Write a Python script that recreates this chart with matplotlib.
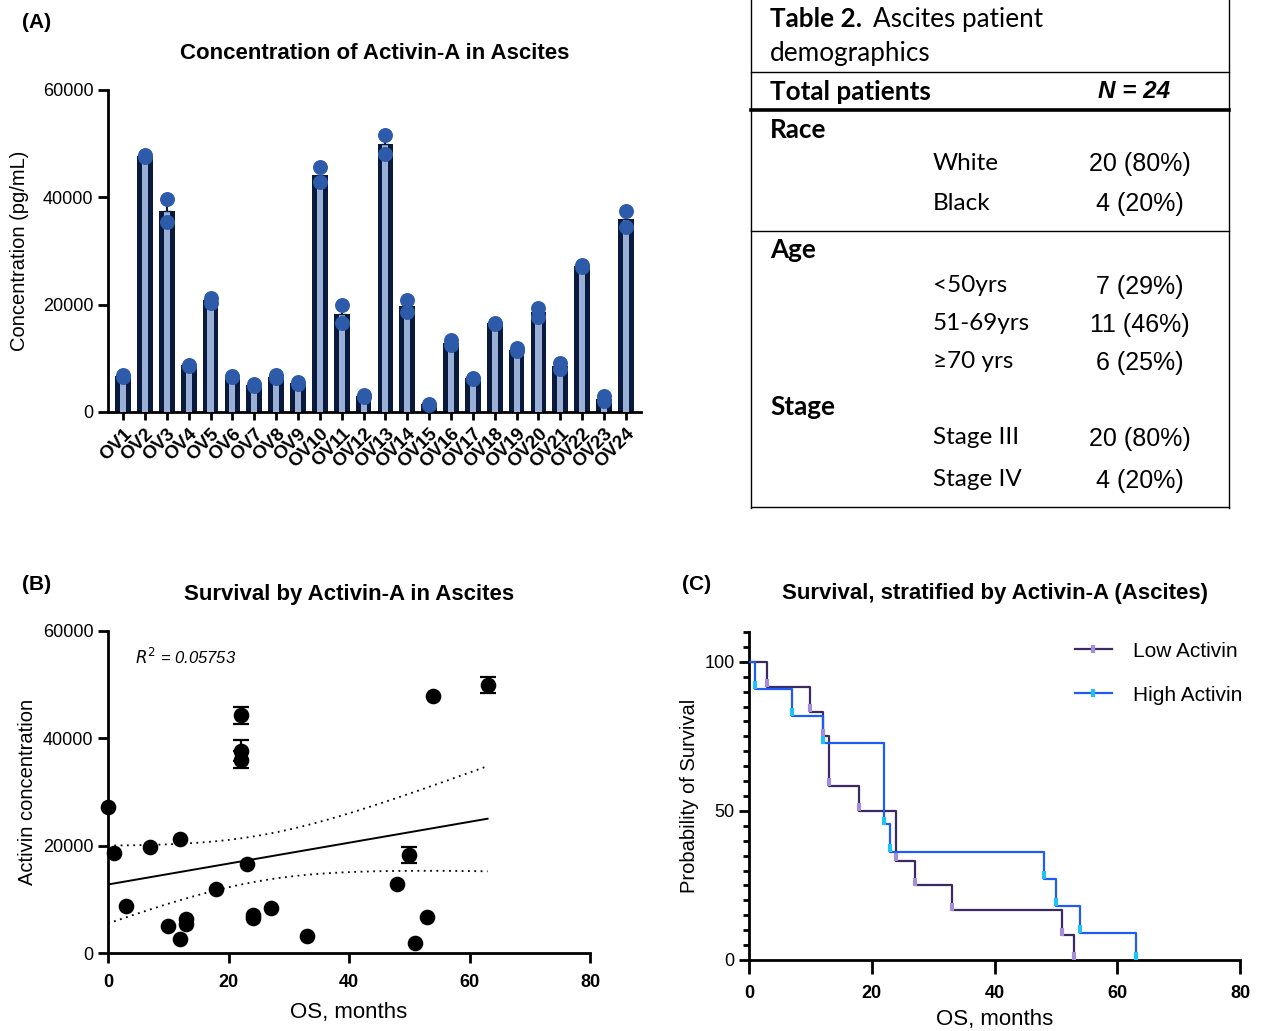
import numpy as np
import matplotlib

matplotlib.use("Agg")
import matplotlib.pyplot as plt
from matplotlib.lines import Line2D

plt.rcParams["font.family"] = ["Liberation Sans", "DejaVu Sans"]

# ---- (A) Activin-A per patient, duplicate wells ----
samples = [f"OV{i}" for i in range(1, 25)]
rep1 = [6500, 47600, 39600, 8600, 20400, 6500, 4800, 6300, 5200, 42800, 16600, 2800,
        48100, 18600, 1300, 12400, 6200, 16400, 11300, 17700, 8000, 27000, 2100, 34400]
rep2 = [6900, 47900, 35400, 8800, 21300, 6700, 5200, 6900, 5600, 45700, 19900, 3100,
        51600, 20900, 1500, 13500, 6300, 16600, 11900, 19400, 9100, 27400, 2900, 37500]

# ---- (B) overall survival vs activin ----
os_months = [0, 1, 3, 7, 10, 12, 12, 13, 13, 18, 22, 22, 22, 23, 24, 24, 27, 33,
             48, 50, 51, 53, 54, 63]
activin_mean = [27200, 18600, 8800, 19800, 5000, 21200, 2600, 6400, 5400, 11900,
                44300, 37700, 36000, 16600, 7100, 6500, 8400, 3200,
                12900, 18300, 1800, 6700, 47800, 49900]
activin_sem = [0, 0, 0, 0, 0, 0, 0, 0, 0, 0, 1600, 2000, 1600, 0, 0, 0, 0, 0,
               0, 1500, 0, 0, 0, 1500]
replicates = 2
r2_label = "0.05753"

# ---- (C) Kaplan-Meier groups (death times, months) ----
low_times = [3, 10, 12, 13, 13, 18, 24, 24, 27, 33, 51, 53]
high_times = [1, 7, 12, 22, 22, 22, 23, 48, 50, 54, 63]

# ---- table ----
table_groups = ["Race", "Age", "Stage"]
table_rows = [
    ("White", "20 (80%)"), ("Black", "4 (20%)"),
    ("<50yrs", "7 (29%)"), ("51-69yrs", "11 (46%)"), ("\u226570 yrs", "6 (25%)"),
    ("Stage III", "20 (80%)"), ("Stage IV", "4 (20%)"),
]

W, H = 1261, 1031
fig = plt.figure(figsize=(W / 100, H / 100), dpi=100)


def px_axes(left, top, right, bottom):
    return fig.add_axes([left / W, 1 - bottom / H, (right - left) / W, (bottom - top) / H])


def style_axes(ax):
    for s in ("top", "right"):
        ax.spines[s].set_visible(False)
    for s in ("left", "bottom"):
        ax.spines[s].set_linewidth(2.0)
    ax.tick_params(width=2.0, length=7, labelsize=13, direction="out")


# ================= panel A =================
axA = px_axes(108, 90, 641, 412)
style_axes(axA)
r1 = np.array(rep1, float)
r2 = np.array(rep2, float)
means = (r1 + r2) / 2
sems = np.abs(r1 - r2) / 2
xpos = np.arange(len(samples))
axA.bar(xpos, means, width=0.72, color="#0a1a3c", zorder=2)
axA.bar(xpos, means, width=0.28, color="#9aafd6", zorder=3)
axA.errorbar(xpos, means, yerr=[np.zeros_like(sems), sems], fmt="none",
             ecolor="#0a1a3c", elinewidth=1.5, capsize=3, zorder=4)
axA.scatter(xpos, r1, s=95, color="#2d5ba9", zorder=5, clip_on=False)
axA.scatter(xpos, r2, s=95, color="#2d5ba9", zorder=5, clip_on=False)
axA.set_xlim(-0.69, 23.69)
axA.set_ylim(0, 60000)
axA.set_yticks([0, 20000, 40000, 60000])
axA.set_xticks(xpos)
axA.set_xticklabels(samples, rotation=45, ha="right", rotation_mode="anchor",
                    fontsize=13.5, fontweight="bold")
axA.tick_params(axis="x", length=6)
axA.set_ylabel("Concentration (pg/mL)", fontsize=14.5, labelpad=10)
axA.set_title("Concentration of Activin-A in Ascites", fontsize=16, fontweight="bold", pad=22)

# ================= panel B =================
axB = px_axes(108, 631, 590, 953)
style_axes(axB)
xb = np.array(os_months, float)
yb = np.array(activin_mean, float)
eb = np.array(activin_sem, float)
has_err = eb > 0
axB.errorbar(xb[has_err], yb[has_err], yerr=eb[has_err], fmt="none", ecolor="black",
             elinewidth=1.6, capsize=6, capthick=1.6, zorder=3)
axB.scatter(xb, yb, s=105, color="black", zorder=4, clip_on=False)

# linear fit on all replicate values, with 95% confidence band
xr = np.repeat(xb, replicates)
yr = np.repeat(yb, replicates)
n = len(xr)
slope, intercept = np.polyfit(xr, yr, 1)
resid = yr - (slope * xr + intercept)
s_err = np.sqrt(np.sum(resid ** 2) / (n - 2))
sxx = np.sum((xr - xr.mean()) ** 2)
xf = np.linspace(xb.min(), xb.max(), 200)
yf = slope * xf + intercept
band = 2.013 * s_err * np.sqrt(1 / n + (xf - xr.mean()) ** 2 / sxx)
axB.plot(xf, yf, color="black", lw=1.4, zorder=2)
axB.plot(xf, yf + band, color="black", lw=1.3, ls=(0, (1, 2.5)), zorder=2)
axB.plot(xf, yf - band, color="black", lw=1.3, ls=(0, (1, 2.5)), zorder=2)
axB.set_xlim(0, 80)
axB.set_ylim(0, 60000)
axB.set_xticks([0, 20, 40, 60, 80])
axB.set_yticks([0, 20000, 40000, 60000])
axB.tick_params(axis="x", pad=8)
for lab in axB.get_xticklabels():
    lab.set_fontweight("bold")
axB.set_xlabel("OS, months", fontsize=16, labelpad=8)
axB.set_ylabel("Activin concentration", fontsize=14.5)
axB.set_title("Survival by Activin-A in Ascites", fontsize=16, fontweight="bold", pad=22)
axB.text(0.055, 0.92, "$R^2$ = " + r2_label, transform=axB.transAxes, fontsize=12,
         style="italic", va="center")


# ================= panel C =================
def km_steps(times):
    t = np.sort(np.array(times, float))
    at_risk = len(t)
    surv = 100.0
    xs, ys = [0.0], [100.0]
    for u in np.unique(t):
        d = np.sum(t == u)
        surv *= 1 - d / at_risk
        at_risk -= d
        xs.append(u)
        ys.append(surv)
    return np.array(xs), np.array(ys)


axC = px_axes(749, 632, 1240, 960)
style_axes(axC)
groups = [("Low Activin", low_times, "#3b2a60", "#a58ed8"),
          ("High Activin", high_times, "#1f5cf5", "#22c3f2")]
handles = []
for name, times, lc, tc in groups:
    xs, ys = km_steps(times)
    axC.step(xs, ys, where="post", color=lc, lw=1.6, zorder=3)
    axC.plot(xs[1:], ys[1:] + 1.2, ls="none", marker="|", ms=6, mew=3, color=tc,
             zorder=4, clip_on=False)
    handles.append(Line2D([0], [0], color=lc, lw=1.6, marker="|", ms=6, mew=3,
                          markeredgecolor=tc))
axC.set_xlim(0, 80)
axC.set_ylim(0, 110)
axC.set_xticks([0, 20, 40, 60, 80])
axC.set_yticks([0, 50, 100])
axC.set_yticks(np.arange(0, 111, 5), minor=True)
axC.tick_params(axis="y", which="minor", width=2.0, length=4)
axC.tick_params(axis="x", length=10, pad=8)
for lab in axC.get_xticklabels():
    lab.set_fontweight("bold")
axC.set_xlabel("OS, months", fontsize=16, labelpad=5)
axC.set_ylabel("Probability of Survival", fontsize=14.5)
axC.set_title("Survival, stratified by Activin-A (Ascites)", fontsize=16,
              fontweight="bold", pad=24)
axC.legend(handles, ["Low Activin", "High Activin"], loc="upper right",
           bbox_to_anchor=(1.043, 1.028), frameon=False, fontsize=15,
           handlelength=1.8, labelspacing=1.2, handletextpad=1.0)

# panel labels
fig.text(22 / W, 1 - 22 / H, "(A)", fontsize=15, fontweight="bold", va="center")
fig.text(22 / W, 1 - 584 / H, "(B)", fontsize=15, fontweight="bold", va="center")
fig.text(682 / W, 1 - 584 / H, "(C)", fontsize=15, fontweight="bold", va="center")

# ================= table =================
axT = px_axes(751, 0, 1230, 509)
axT.set_xlim(751, 1230)
axT.set_ylim(509, 0)
axT.axis("off")
tfont = ["Lato", "DejaVu Sans"]
nfont = ["Liberation Sans", "DejaVu Sans"]
k = dict(color="black", clip_on=False)
axT.plot([751.5, 751.5], [0, 508], lw=1.0, **k)
axT.plot([1229, 1229], [0, 508], lw=1.0, **k)
axT.plot([751, 1229], [507.5, 507.5], lw=1.0, **k)
axT.plot([751, 1229], [72, 72], lw=1.0, **k)
axT.plot([751, 1229], [110, 110], lw=2.6, **k)
axT.plot([751, 1229], [231, 231], lw=1.0, **k)

fs = 17.5
fsb = 18.8
axT.text(770, 19, "Table 2.", family=tfont, fontsize=fsb, fontweight="bold", va="center")
axT.text(873, 19, "Ascites patient", family=tfont, fontsize=fsb, va="center")
axT.text(770, 54, "demographics", family=tfont, fontsize=fsb, va="center")
axT.text(770, 92, "Total patients", family=tfont, fontsize=fsb, fontweight="bold", va="center")
axT.text(1134, 92, "N = 24", family=nfont, fontsize=fs, fontweight="bold", style="italic",
         ha="center", va="center")
group_y = [130, 250, 407]
for g, y in zip(table_groups, group_y):
    axT.text(770, y, g, family=tfont, fontsize=fsb, fontweight="bold", va="center")
row_y = [163, 203, 286, 324, 362, 438, 480]
for (lab, val), y in zip(table_rows, row_y):
    axT.text(933, y, lab, family=tfont, fontsize=fs, va="center")
    axT.text(1140, y + 1, val, family=nfont, fontsize=18, ha="center", va="center")

fig.savefig("out.png", dpi=100)
